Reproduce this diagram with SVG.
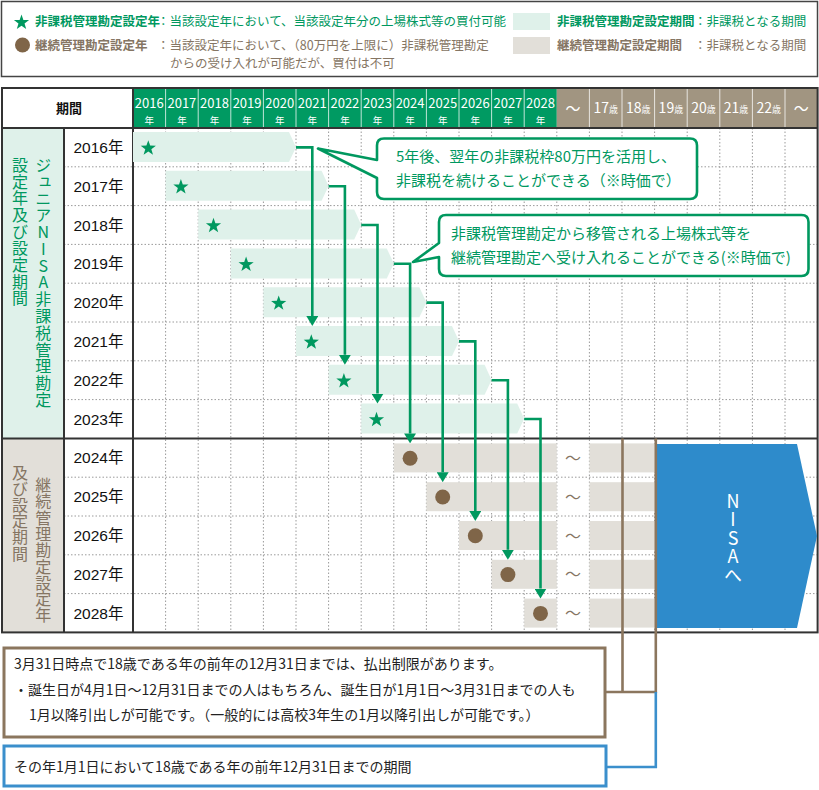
<svg xmlns="http://www.w3.org/2000/svg" width="819" height="790" viewBox="0 0 819 790">
<style>
text{font-family:"Noto Sans CJK JP","Liberation Sans",sans-serif}
.g{fill:#00985f}
.b{fill:#857563}
.bold{font-weight:bold}
.lg{font-size:12.5px}
.hd{fill:#fff;font-family:"Liberation Sans","Noto Sans CJK JP",sans-serif;text-anchor:middle}
.yh{font-size:13px}
.yn{font-size:9.5px}
.yr{font-size:15.5px;fill:#111;text-anchor:middle;font-family:"Liberation Sans","Noto Sans CJK JP",sans-serif}
.dot{stroke:#9a9a9a;stroke-width:1;stroke-dasharray:1.5 2;fill:none}
.solid{stroke:#333;stroke-width:2;fill:none}
.mint{fill:#dff1ea}
.beige{fill:#e2dfd9}
.conn{stroke:#00985f;stroke-width:2.6;fill:none;marker-end:url(#ah)}
.tilde{font-size:16px;fill:#857563;text-anchor:middle}
.vt{font-size:16px;writing-mode:vertical-rl;text-orientation:upright}
.call{fill:#fff;stroke:#00985f;stroke-width:2.6;stroke-linejoin:round}
.ct{font-size:15px;fill:#00985f}
</style>
<defs>
<path id="star" d="M0,-8 L1.88,-2.59 L7.6,-2.47 L3.04,0.99 L4.7,6.47 L0,3.2 L-4.7,6.47 L-3.04,0.99 L-7.6,-2.47 L-1.88,-2.59 Z" fill="#00985f"/>
<marker id="ah" markerUnits="userSpaceOnUse" viewBox="0 0 10 12" markerWidth="10" markerHeight="12" refX="0" refY="6" orient="auto">
<path d="M0,0 L10,6 L0,12 Z" fill="#00985f"/>
</marker>
</defs>

<g id="legend">
<rect x="1.5" y="1.5" width="816" height="75" fill="#fff" stroke="#444" stroke-width="1.5"/>
<use href="#star" x="21.5" y="22.5"/>
<text x="35" y="26" class="g bold lg">非課税管理勘定設定年</text>
<text x="157" y="26" class="g lg">：当該設定年において、当該設定年分の上場株式等の買付可能</text>
<circle cx="22.5" cy="45" r="7.5" fill="#7f6548"/>
<text x="35" y="50" class="b bold lg">継続管理勘定設定年</text>
<text x="157" y="50" class="b lg">：当該設定年において、（80万円を上限に）非課税管理勘定</text>
<text x="170" y="68" class="b lg">からの受け入れが可能だが、買付は不可</text>
<rect x="513" y="13" width="37" height="17" class="mint"/>
<rect x="513" y="37" width="37" height="17" class="beige"/>
<text x="557" y="26" class="g bold lg">非課税管理勘定設定期間</text>
<text x="694" y="26" class="g lg">：非課税となる期間</text>
<text x="557" y="50" class="b bold lg">継続管理勘定設定期間</text>
<text x="694" y="50" class="b lg">：非課税となる期間</text>
</g>

<g id="table-frame">
<rect x="2" y="88" width="815.6" height="544.4" fill="#fff"/>
<rect x="133" y="88" width="423.8" height="40" fill="#009a62"/>
<rect x="556.8" y="88" width="260.8" height="40" fill="#a19581"/>
<rect x="2" y="128" width="62" height="310.4" class="mint"/>
<rect x="2" y="438.4" width="62" height="194" class="beige"/>
<g stroke="#fff" stroke-opacity="0.75" stroke-width="1">
<path d="M165.6,88V128M198.2,88V128M230.8,88V128M263.4,88V128M296,88V128M328.6,88V128M361.2,88V128M393.8,88V128M426.4,88V128M459,88V128M491.6,88V128M524.2,88V128M589.4,88V128M622,88V128M654.6,88V128M687.2,88V128M719.8,88V128M752.4,88V128M785,88V128"/>
</g>
<g class="dot">
<path d="M64,166.8H817.6M64,205.6H817.6M64,244.4H817.6M64,283.2H817.6M64,322H817.6M64,360.8H817.6M64,399.6H817.6M64,477.2H817.6M64,516H817.6M64,554.8H817.6M64,593.6H817.6"/>
<path d="M165.6,128V632.4M198.2,128V632.4M230.8,128V632.4M263.4,128V632.4M296,128V632.4M328.6,128V632.4M361.2,128V632.4M393.8,128V632.4M426.4,128V632.4M459,128V632.4M491.6,128V632.4M524.2,128V632.4M556.8,128V632.4M589.4,128V632.4M622,128V632.4M654.6,128V632.4M687.2,128V632.4M719.8,128V632.4M752.4,128V632.4M785,128V632.4"/>
</g>
<path class="solid" d="M2,128H817.6M2,438.4H817.6M64,128V632.4M133,88V632.4"/>
<rect x="2" y="88" width="815.6" height="544.4" class="solid"/>
<text x="69" y="113" font-size="13" font-weight="bold" text-anchor="middle" fill="#111">期間</text>
<g class="hd">
<text class="yh" x="149.3" y="107.5">2016</text><text class="yn" x="149.3" y="123.5">年</text>
<text class="yh" x="181.9" y="107.5">2017</text><text class="yn" x="181.9" y="123.5">年</text>
<text class="yh" x="214.5" y="107.5">2018</text><text class="yn" x="214.5" y="123.5">年</text>
<text class="yh" x="247.1" y="107.5">2019</text><text class="yn" x="247.1" y="123.5">年</text>
<text class="yh" x="279.7" y="107.5">2020</text><text class="yn" x="279.7" y="123.5">年</text>
<text class="yh" x="312.3" y="107.5">2021</text><text class="yn" x="312.3" y="123.5">年</text>
<text class="yh" x="344.9" y="107.5">2022</text><text class="yn" x="344.9" y="123.5">年</text>
<text class="yh" x="377.5" y="107.5">2023</text><text class="yn" x="377.5" y="123.5">年</text>
<text class="yh" x="410.1" y="107.5">2024</text><text class="yn" x="410.1" y="123.5">年</text>
<text class="yh" x="442.7" y="107.5">2025</text><text class="yn" x="442.7" y="123.5">年</text>
<text class="yh" x="475.3" y="107.5">2026</text><text class="yn" x="475.3" y="123.5">年</text>
<text class="yh" x="507.9" y="107.5">2027</text><text class="yn" x="507.9" y="123.5">年</text>
<text class="yh" x="540.5" y="107.5">2028</text><text class="yn" x="540.5" y="123.5">年</text>
<text x="573.1" y="114" font-size="15">～</text>
<text x="605.7" y="113" font-size="14">17<tspan font-size="9">歳</tspan></text>
<text x="638.3" y="113" font-size="14">18<tspan font-size="9">歳</tspan></text>
<text x="670.9" y="113" font-size="14">19<tspan font-size="9">歳</tspan></text>
<text x="703.5" y="113" font-size="14">20<tspan font-size="9">歳</tspan></text>
<text x="736.1" y="113" font-size="14">21<tspan font-size="9">歳</tspan></text>
<text x="768.7" y="113" font-size="14">22<tspan font-size="9">歳</tspan></text>
<text x="801.3" y="114" font-size="15">～</text>
</g>
<text class="vt g" x="43.3" y="157" letter-spacing="0.77">ジュニアNISA非課税管理勘定</text>
<text class="vt g" x="20" y="157" letter-spacing="0.67">設定年及び設定期間</text>
<text class="vt b" x="43.3" y="477" letter-spacing="0.3">継続管理勘定設定年</text>
<text class="vt b" x="20" y="465" letter-spacing="0.1">及び設定期間</text>
<text class="yr" x="98.5" y="152.9">2016年</text>
<text class="yr" x="98.5" y="191.7">2017年</text>
<text class="yr" x="98.5" y="230.5">2018年</text>
<text class="yr" x="98.5" y="269.3">2019年</text>
<text class="yr" x="98.5" y="308.1">2020年</text>
<text class="yr" x="98.5" y="346.9">2021年</text>
<text class="yr" x="98.5" y="385.7">2022年</text>
<text class="yr" x="98.5" y="424.5">2023年</text>
<text class="yr" x="98.5" y="463.3">2024年</text>
<text class="yr" x="98.5" y="502.1">2025年</text>
<text class="yr" x="98.5" y="540.9">2026年</text>
<text class="yr" x="98.5" y="579.7">2027年</text>
<text class="yr" x="98.5" y="618.5">2028年</text>
</g>

<g id="nontax-bars">
<polygon class="mint" points="133,132 289,132 296,147.2 289,162 133,162"/>
<polygon class="mint" points="165.6,170.8 321.6,170.8 328.6,186 321.6,200.8 165.6,200.8"/>
<polygon class="mint" points="198.2,209.6 354.2,209.6 361.2,224.8 354.2,239.6 198.2,239.6"/>
<polygon class="mint" points="230.8,248.4 386.8,248.4 393.8,263.6 386.8,278.4 230.8,278.4"/>
<polygon class="mint" points="263.4,287.2 419.4,287.2 426.4,302.4 419.4,317.2 263.4,317.2"/>
<polygon class="mint" points="296,326 452,326 459,341.2 452,356 296,356"/>
<polygon class="mint" points="328.6,364.8 484.6,364.8 491.6,380 484.6,394.8 328.6,394.8"/>
<polygon class="mint" points="361.2,403.6 517.2,403.6 524.2,418.8 517.2,433.6 361.2,433.6"/>
<use href="#star" x="148.3" y="148.2"/>
<use href="#star" x="180.9" y="187"/>
<use href="#star" x="213.5" y="225.8"/>
<use href="#star" x="246.1" y="264.6"/>
<use href="#star" x="278.7" y="303.4"/>
<use href="#star" x="311.3" y="342.2"/>
<use href="#star" x="343.9" y="381"/>
<use href="#star" x="376.5" y="419.8"/>
</g>

<g id="continued-bars">
<rect class="beige" x="393.8" y="443.4" width="163" height="29"/>
<rect class="beige" x="426.4" y="482.2" width="130.4" height="29"/>
<rect class="beige" x="459" y="521" width="97.8" height="29"/>
<rect class="beige" x="491.6" y="559.8" width="65.2" height="29"/>
<rect class="beige" x="524.2" y="598.6" width="32.6" height="29"/>
<rect class="beige" x="589.4" y="443.4" width="65.6" height="29"/>
<rect class="beige" x="589.4" y="482.2" width="65.6" height="29"/>
<rect class="beige" x="589.4" y="521" width="65.6" height="29"/>
<rect class="beige" x="589.4" y="559.8" width="65.6" height="29"/>
<rect class="beige" x="589.4" y="598.6" width="65.6" height="29"/>
<g fill="#7f6548">
<circle cx="410.1" cy="458.2" r="7.5"/>
<circle cx="442.7" cy="497" r="7.5"/>
<circle cx="475.3" cy="535.8" r="7.5"/>
<circle cx="507.9" cy="574.6" r="7.5"/>
<circle cx="540.5" cy="613.4" r="7.5"/>
</g>
<text class="tilde" x="573.1" y="464">～</text>
<text class="tilde" x="573.1" y="502.8">～</text>
<text class="tilde" x="573.1" y="541.6">～</text>
<text class="tilde" x="573.1" y="580.4">～</text>
<text class="tilde" x="573.1" y="619.2">～</text>
</g>

<g id="nisa">
<polygon points="657,444 797,444 817,536 797,628 657,628" fill="#2e8bcb"/>
<text x="733" y="492" fill="#fff" font-size="18" letter-spacing="0.5" style="writing-mode:vertical-rl;text-orientation:upright">NISAへ</text>
</g>

<g id="connectors">
<path class="conn" d="M296,147.4H312.3V316"/>
<path class="conn" d="M328.6,186.2H344.9V354.8"/>
<path class="conn" d="M361.2,225H377.5V393.6"/>
<path class="conn" d="M393.8,263.8H410.1V433.4"/>
<path class="conn" d="M426.4,302.6H442.7V472.2"/>
<path class="conn" d="M459,341.4H475.3V511"/>
<path class="conn" d="M491.6,380.2H507.9V549.8"/>
<path class="conn" d="M524.2,419H540.5V588.6"/>
<path d="M622.5,438.4V692M655.8,438.4V692H605" stroke="#8b765e" stroke-width="2.6" fill="none"/>
<path d="M655.8,692V767H606" stroke="#3b8fcc" stroke-width="2.6" fill="none"/>
</g>

<g id="callout-1">
<path class="call" d="M384,138.5H690Q697,138.5 697,145.5V192Q697,199 690,199H384Q377,199 377,192V178L318,148.5L377,160V145.5Q377,138.5 384,138.5Z"/>
<text class="ct" x="396" y="162">5年後、翌年の非課税枠80万円を活用し、</text>
<text class="ct" x="396" y="186">非課税を続けることができる（※時価で）</text>
</g>

<g id="callout-2">
<path class="call" d="M446,215H801.5Q808.5,215 808.5,222V269Q808.5,276 801.5,276H446Q439,276 439,269V257L413,262L439,243V222Q439,215 446,215Z"/>
<text class="ct" x="451" y="239" font-size="15.5">非課税管理勘定から移管される上場株式等を</text>
<text class="ct" x="451" y="262.5" font-size="15.5">継続管理勘定へ受け入れることができる(※時価で)</text>
</g>

<g id="note-withdrawal">
<rect x="4" y="648" width="601" height="89" fill="#fff" stroke="#8b765e" stroke-width="3"/>
<text x="14" y="669" font-size="14" fill="#222">3月31日時点で18歳である年の前年の12月31日までは、払出制限があります。</text>
<text x="14" y="695" font-size="14" fill="#222">・誕生日が4月1日～12月31日までの人はもちろん、誕生日が1月1日～3月31日までの人も</text>
<text x="29" y="720" font-size="14" fill="#222">1月以降引出しが可能です。（一般的には高校3年生の1月以降引出しが可能です。）</text>
</g>

<g id="note-period">
<rect x="4" y="746" width="602" height="40" fill="#fff" stroke="#3b8fcc" stroke-width="3"/>
<text x="14" y="772" font-size="14" fill="#222">その年1月1日において18歳である年の前年12月31日までの期間</text>
</g>
</svg>
